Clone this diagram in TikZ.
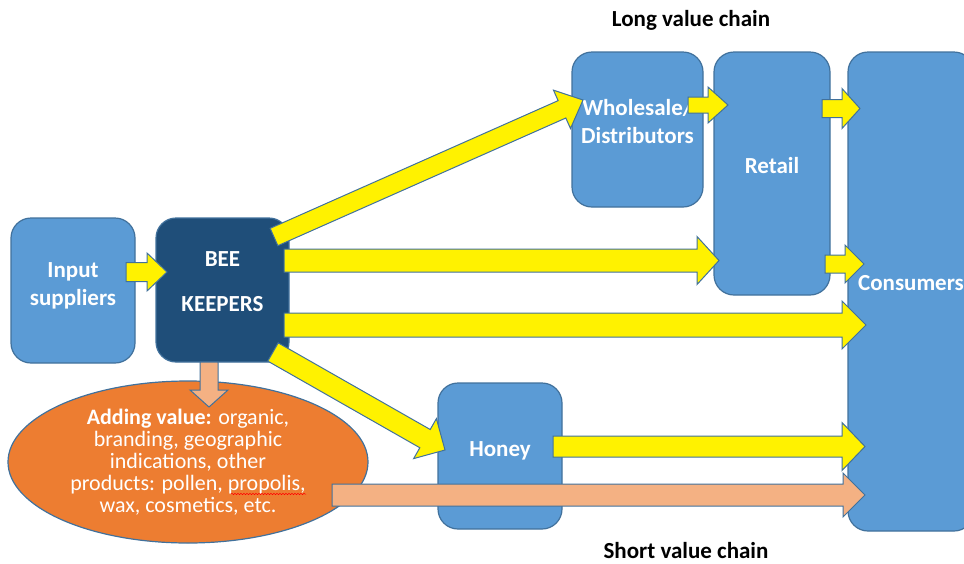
\documentclass[tikz,border=0pt]{standalone}
\usepackage{fontspec}
\setmainfont{Carlito}
\usepackage{tikz}
\usetikzlibrary{calc,shapes.geometric,decorations.pathmorphing}

\definecolor{boxblue}{HTML}{5B9BD5}
\definecolor{beeblue}{HTML}{1F4E79}
\definecolor{edgeblue}{HTML}{41719C}
\definecolor{addorange}{HTML}{ED7D31}
\definecolor{lightorange}{HTML}{F4B183}

% block arrow: [style]{from}{tip}{half shaft}{half head}{head length}
\newcommand{\blockarrow}[6][yarrow]{%
\path ($(#3)!#6pt!(#2)$) coordinate (bh);
\draw[#1] ($(#2)!#4pt!90:(#3)$) -- ($(bh)!#4pt!90:(#3)$) -- ($(bh)!#5pt!90:(#3)$) -- (#3)
   -- ($(bh)!#5pt!-90:(#3)$) -- ($(bh)!#4pt!-90:(#3)$) -- ($(#2)!#4pt!-90:(#3)$) -- cycle;}

\begin{document}
\begin{tikzpicture}[x=1pt, y=-1pt,
  box/.style={rectangle, rounded corners=20pt, fill=boxblue, draw=edgeblue, line width=1.2pt, inner sep=0pt},
  boxtxt/.style={text=white, font=\bfseries\fontsize{23}{28}\selectfont, align=center, yshift=8pt},
  yarrow/.style={fill=yellow, draw=edgeblue, line width=1pt},
  oarrow/.style={fill=lightorange, draw=edgeblue, line width=1pt},
  chaintitle/.style={font=\bfseries\fontsize{23}{26}\selectfont}]
\useasboundingbox (0,0) rectangle (964,563);
\clip (0,0) rectangle (964,563);

\node[box, minimum width=124pt, minimum height=145pt,
  label={[boxtxt, yshift=-3pt, name=input-t]center:{Input\\suppliers}}] (input) at (73,290.5) {};
\node[box, fill=beeblue, minimum width=133pt, minimum height=144pt,
  label={[boxtxt, name=bee-t]center:{BEE\\[17pt]KEEPERS}}] (bee) at (222.5,290) {};
\node[box, minimum width=131pt, minimum height=155pt,
  label={[boxtxt, name=whole-t]center:{Wholesale/\\Distributors}}] (whole) at (637.5,129.5) {};
\node[box, minimum width=116pt, minimum height=243pt,
  label={[boxtxt, name=retail-t]center:Retail}] (retail) at (772,173.5) {};
\node[box, minimum width=126pt, minimum height=479pt,
  label={[boxtxt, name=cons-t]center:Consumers}] (cons) at (911,291.5) {};
\node[box, minimum width=124pt, minimum height=146pt,
  label={[boxtxt, yshift=-3pt, name=honey-t]center:Honey}] (honey) at (500,456) {};

\node[ellipse, fill=addorange, draw=edgeblue, line width=1.2pt, inner sep=0pt,
  minimum width=360pt, minimum height=162pt, text=white, align=center,
  font=\fontsize{22}{22}\selectfont] (addval) at (188,462)
  {\textbf{Adding value:} organic,\\branding, geographic\\indications, other\\products: pollen, propolis,\\wax, cosmetics, etc.};
\draw[red, line width=0.5pt, decorate, decoration={snake, amplitude=0.7pt, segment length=3pt}]
  (231,494) -- (306,494);

\node[chaintitle] (longchain) at (691,20) {Long value chain};
\node[chaintitle] (shortchain) at (686,551) {Short value chain};

\coordinate (in-s) at (126,272);      \coordinate (in-e) at (167,272);
\coordinate (bw-s) at (274,237);      \coordinate (bw-e) at (583,100);
\coordinate (br-s) at (284,260.5);    \coordinate (br-e) at (719,260.5);
\coordinate (bc-s) at (284,325);      \coordinate (bc-e) at (866,325);
\coordinate (bh-s) at (273,352);      \coordinate (bh-e) at (445,450);
\coordinate (wr-s) at (688,105);      \coordinate (wr-e) at (728,105);
\coordinate (rc1-s) at (822,108.5);   \coordinate (rc1-e) at (860,108.5);
\coordinate (rc2-s) at (825,264);     \coordinate (rc2-e) at (864,264);
\coordinate (hc-s) at (553,446.5);    \coordinate (hc-e) at (865,446.5);
\coordinate (ac-s) at (332,495);      \coordinate (ac-e) at (865,495);
\coordinate (ba-s) at (209,362);      \coordinate (ba-e) at (209,407);

\blockarrow{in-s}{in-e}{9.5}{19}{20}
\blockarrow{bw-s}{bw-e}{9.5}{21}{23}
\blockarrow{br-s}{br-e}{11.5}{24}{22}
\blockarrow{bc-s}{bc-e}{12}{24}{24}
\blockarrow{bh-s}{bh-e}{10.5}{23}{23}
\blockarrow{wr-s}{wr-e}{8}{18}{20}
\blockarrow{rc1-s}{rc1-e}{9}{20}{18}
\blockarrow{rc2-s}{rc2-e}{9}{19}{19}
\blockarrow{hc-s}{hc-e}{10.5}{24}{23}
\blockarrow[oarrow]{ac-s}{ac-e}{11}{22}{22}
\blockarrow[oarrow]{ba-s}{ba-e}{9}{19}{17}
\end{tikzpicture}
\end{document}
